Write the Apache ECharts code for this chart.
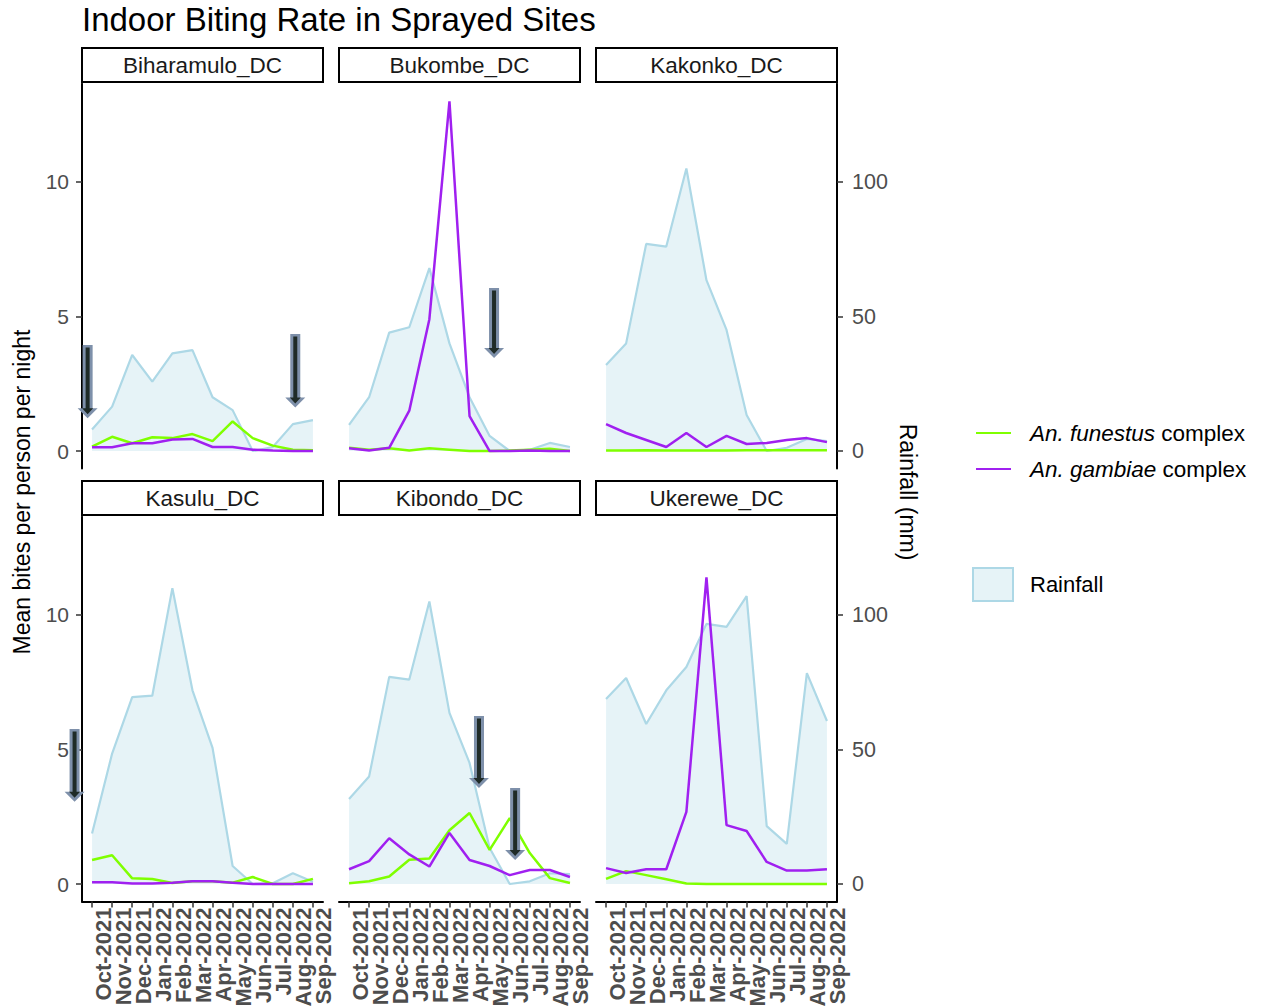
<!DOCTYPE html>
<html><head><meta charset="utf-8">
<script src="https://cdn.jsdelivr.net/npm/echarts@6/dist/echarts.min.js"></script>
<style>html,body{margin:0;padding:0;background:#fff}#c{width:1262px;height:1007px}</style>
</head><body><div id="c"></div>
<script>
// ---------------- DATA ----------------
const months = ['Oct-2021','Nov-2021','Dec-2021','Jan-2022','Feb-2022','Mar-2022','Apr-2022','May-2022','Jun-2022','Jul-2022','Aug-2022','Sep-2022'];
const sites = ['Biharamulo_DC','Bukombe_DC','Kakonko_DC','Kasulu_DC','Kibondo_DC','Ukerewe_DC'];
const leftTicks = [0, 5, 10];
const rightTicks = [0, 50, 100];

// Rainfall (mm)
const biharamuloRain = [8, 16.5, 35.7, 25.8, 36.3, 37.5, 20, 15.2, 0, 1.5, 10, 11.5];
const bukombeRain    = [9.7, 20, 44, 46, 68, 40, 20, 5.6, 0, 0.5, 3, 1.5];
const kakonkoRain    = [32, 40, 77, 76, 105, 63.5, 45, 13.4, 0, 1.2, 4.5, 3.7];
const kasuluRain     = [18.8, 48.5, 69.5, 70, 110, 72, 50.6, 6.7, 0, 0.3, 4, 0.8];
const kibondoRain    = [31.6, 40, 77, 76, 105, 63.6, 45, 13.4, 0, 1, 4, 3.7];
const ukereweRain    = [68.8, 76.6, 59.5, 72, 80.7, 96.7, 95.6, 107, 21.5, 14.9, 78.4, 60.6];

// An. funestus complex (mean bites per person per night)
const biharamuloFunestus = [0.16, 0.53, 0.29, 0.51, 0.48, 0.63, 0.37, 1.1, 0.48, 0.2, 0.05, 0.03];
const bukombeFunestus    = [0.12, 0.05, 0.1, 0.02, 0.1, 0.05, 0, 0, 0.02, 0.05, 0.08, 0];
const kakonkoFunestus    = [0.02, 0.02, 0.03, 0.02, 0.02, 0.02, 0.02, 0.03, 0.03, 0.03, 0.03, 0.03];
const kasuluFunestus     = [0.89, 1.07, 0.21, 0.19, 0.04, 0.1, 0.1, 0.05, 0.26, 0, 0, 0.19];
const kibondoFunestus    = [0.03, 0.1, 0.28, 0.9, 0.95, 2.0, 2.64, 1.27, 2.45, 1.15, 0.22, 0.04];
const ukereweFunestus    = [0.19, 0.48, 0.33, 0.18, 0.02, 0, 0, 0, 0, 0, 0, 0];

// An. gambiae complex (mean bites per person per night)
const biharamuloGambiae = [0.14, 0.14, 0.29, 0.29, 0.43, 0.45, 0.15, 0.15, 0.05, 0.02, 0, 0];
const bukombeGambiae    = [0.1, 0.02, 0.12, 1.5, 4.9, 13.0, 1.3, 0, 0, 0.02, 0, 0];
const kakonkoGambiae    = [1.0, 0.67, 0.41, 0.15, 0.67, 0.15, 0.56, 0.26, 0.3, 0.41, 0.48, 0.33];
const kasuluGambiae     = [0.07, 0.07, 0.02, 0.02, 0.05, 0.1, 0.1, 0.05, 0, 0, 0, 0];
const kibondoGambiae    = [0.55, 0.85, 1.7, 1.1, 0.65, 1.9, 0.89, 0.67, 0.33, 0.52, 0.52, 0.26];
const ukereweGambiae    = [0.59, 0.41, 0.55, 0.55, 2.68, 11.4, 2.19, 1.97, 0.82, 0.5, 0.5, 0.55];

// Spray arrows: [month index, start (bites), end (bites)]
const biharamuloArrows = [[-0.22, 3.94, 1.22], [10.12, 4.35, 1.62]];
const bukombeArrows    = [[7.22, 6.06, 3.46]];
const kakonkoArrows    = [];
const kasuluArrows     = [[-0.87, 5.76, 3.06]];
const kibondoArrows    = [[6.47, 6.25, 3.57], [8.27, 3.57, 0.89]];
const ukereweArrows    = [];

const rainFactor = 10; // secondary axis: rainfall = bites * 10

// ---------------- BUILD ----------------
const rains = [biharamuloRain, bukombeRain, kakonkoRain, kasuluRain, kibondoRain, ukereweRain];
const funs  = [biharamuloFunestus, bukombeFunestus, kakonkoFunestus, kasuluFunestus, kibondoFunestus, ukereweFunestus];
const gams  = [biharamuloGambiae, bukombeGambiae, kakonkoGambiae, kasuluGambiae, kibondoGambiae, ukereweGambiae];
const arrs  = [biharamuloArrows, bukombeArrows, kakonkoArrows, kasuluArrows, kibondoArrows, ukereweArrows];

const FONT = 'Liberation Sans';
const colLeft = [82, 339, 596], panelW = 241;
const rowTop = [83.8, 516.8], panelH = 384.7;

let dataMax = 0;
for (let k = 0; k < 6; k++) {
  dataMax = Math.max(dataMax, ...funs[k], ...gams[k], ...rains[k].map(v => v / rainFactor));
}
const yMin = -dataMax * 0.05, yMax = dataMax * 1.05;

const grids = [], xAxes = [], yAxes = [], series = [], graphics = [];
const tickColor = '#333333', labelColor = '#4D4D4D';

function arrowRender(params, api) {
  const x = api.value(0), y1 = api.value(1), y2 = api.value(2);
  const p1 = api.coord([x, y1]), p2 = api.coord([x, y2]);
  const cx = p1[0], top = p1[1], tip = p2[1];
  const sw = 5, hw = 10, hh = 10;
  return {
    type: 'group',
    children: [
      { type: 'polygon', shape: { points: [[cx - sw, top], [cx + sw, top], [cx + sw, tip - hh], [cx + hw, tip - hh], [cx, tip], [cx - hw, tip - hh], [cx - sw, tip - hh]] },
        style: { fill: '#7E90AA', stroke: null } },
      { type: 'polygon', shape: { points: [[cx - 2, top + 2.5], [cx + 2, top + 2.5], [cx + 2, tip - hh], [cx + 5.5, tip - hh], [cx, tip - 4], [cx - 5.5, tip - hh], [cx - 2, tip - hh]] },
        style: { fill: '#1F2B27', stroke: null } }
    ]
  };
}

for (let k = 0; k < 6; k++) {
  const row = Math.floor(k / 3), col = k % 3;
  const left = colLeft[col], top = rowTop[row];
  grids.push({ left: left, top: top, width: panelW, height: panelH, containLabel: false, outerBoundsMode: 'none' });
  const showX = row === 1;
  xAxes.push({
    type: 'category', gridIndex: k, data: months, boundaryGap: true,
    axisLine: { show: showX, onZero: false, lineStyle: { color: '#000', width: 2 } },
    axisTick: { show: showX, alignWithLabel: true, length: 6, lineStyle: { color: tickColor, width: 1.5 } },
    axisLabel: { show: showX, interval: 0, rotate: 90, margin: 6, verticalAlign: 'top', fontSize: 22, fontWeight: 'bold', color: labelColor, fontFamily: FONT },
    splitLine: { show: false }
  });
  xAxes.push({ type: 'value', gridIndex: k, min: -0.5, max: 11.5, show: false, axisLine: { onZero: false } });
  yAxes.push({
    type: 'value', gridIndex: k, position: 'left', min: yMin, max: yMax, show: col === 0,
    axisLine: { show: col === 0, onZero: false, lineStyle: { color: '#000', width: 2 } },
    axisTick: { show: col === 0, customValues: leftTicks, length: 6, lineStyle: { color: tickColor, width: 1.5 } },
    axisLabel: { show: col === 0, customValues: leftTicks, margin: 13, fontSize: 21, color: labelColor, fontFamily: FONT },
    splitLine: { show: false }
  });
  yAxes.push({
    type: 'value', gridIndex: k, position: 'right', min: yMin * rainFactor, max: yMax * rainFactor, show: col === 2,
    axisLine: { show: col === 2, onZero: false, lineStyle: { color: '#000', width: 2 } },
    axisTick: { show: col === 2, customValues: rightTicks, length: 6, lineStyle: { color: tickColor, width: 1.5 } },
    axisLabel: { show: col === 2, customValues: rightTicks, margin: 15, fontSize: 21.5, color: labelColor, fontFamily: FONT },
    splitLine: { show: false }
  });

  series.push({
    name: 'Rainfall', type: 'line', xAxisIndex: 2 * k, yAxisIndex: 2 * k + 1, data: rains[k],
    symbol: 'none', silent: true, z: 1,
    lineStyle: { color: '#ADD8E6', width: 2.2 }, itemStyle: { color: '#ADD8E6' },
    areaStyle: { color: 'rgba(173,216,230,0.3)', opacity: 1 }
  });
  series.push({
    name: 'An. funestus complex', type: 'line', xAxisIndex: 2 * k, yAxisIndex: 2 * k, data: funs[k],
    symbol: 'none', silent: true, z: 3,
    lineStyle: { color: '#7FFF00', width: 2.5 }, itemStyle: { color: '#7FFF00' }
  });
  series.push({
    name: 'An. gambiae complex', type: 'line', xAxisIndex: 2 * k, yAxisIndex: 2 * k, data: gams[k],
    symbol: 'none', silent: true, z: 4,
    lineStyle: { color: '#A020F0', width: 2.5 }, itemStyle: { color: '#A020F0' }
  });
  series.push({
    name: 'spray', type: 'custom', xAxisIndex: 2 * k + 1, yAxisIndex: 2 * k, data: arrs[k],
    renderItem: arrowRender, clip: false, silent: true, z: 6,
    encode: { x: 0, y: [1, 2] }
  });

  // facet strip
  const sy = row === 0 ? 48 : 481;
  graphics.push({ type: 'rect', shape: { x: left, y: sy, width: panelW, height: 34 }, style: { fill: '#fff', stroke: '#000', lineWidth: 2 }, silent: true });
  graphics.push({ type: 'text', x: left + panelW / 2, y: sy + 17, silent: true,
    style: { text: sites[k], fontSize: 22.5, fontFamily: FONT, fill: '#1a1a1a', textAlign: 'center', textVerticalAlign: 'middle' } });
}

graphics.push({ type: 'text', x: 22, y: 492, rotation: Math.PI / 2, silent: true,
  style: { text: 'Mean bites per person per night', fontSize: 23, fontFamily: FONT, fill: '#000', textAlign: 'center', textVerticalAlign: 'middle' } });
graphics.push({ type: 'text', x: 908, y: 492, rotation: -Math.PI / 2, silent: true,
  style: { text: 'Rainfall (mm)', fontSize: 23, fontFamily: FONT, fill: '#000', textAlign: 'center', textVerticalAlign: 'middle' } });

const option = {
  animation: false,
  backgroundColor: '#fff',
  textStyle: { fontFamily: FONT },
  title: { text: 'Indoor Biting Rate in Sprayed Sites', left: 82, top: 3, padding: 0,
    textStyle: { fontSize: 33, fontWeight: 'normal', color: '#000', fontFamily: FONT } },
  legend: [
    { orient: 'vertical', left: 975, top: 421, padding: 0, itemWidth: 35, itemHeight: 14, itemGap: 12, selectedMode: false,
      itemStyle: { opacity: 0, color: 'rgba(0,0,0,0)', borderWidth: 0 },
      data: ['An. funestus complex', 'An. gambiae complex'],
      formatter: function (name) { return name.indexOf('funestus') >= 0 ? '{p|}{i|An. funestus} complex' : '{p|}{i|An. gambiae} complex'; },
      textStyle: { fontFamily: FONT, fontSize: 22.5, color: '#000', lineHeight: 24,
        rich: { p: { width: 14 }, i: { fontStyle: 'italic', fontSize: 22.5, fontFamily: FONT, color: '#000' } } } },
    { orient: 'vertical', left: 972, top: 567, padding: 0, itemWidth: 40, itemHeight: 33, selectedMode: false,
      data: [{ name: 'Rainfall', icon: 'rect', itemStyle: { color: 'rgba(173,216,230,0.3)', borderColor: '#ADD8E6', borderWidth: 2, opacity: 1 } }],
      formatter: function (name) { return '{p|}' + name; },
      textStyle: { fontFamily: FONT, fontSize: 22, color: '#000', rich: { p: { width: 12 } } } }
  ],
  grid: grids, xAxis: xAxes, yAxis: yAxes, series: series, graphic: graphics
};

const chart = echarts.init(document.getElementById('c'), null, { renderer: 'svg' });
chart.setOption(option);
</script></body></html>
